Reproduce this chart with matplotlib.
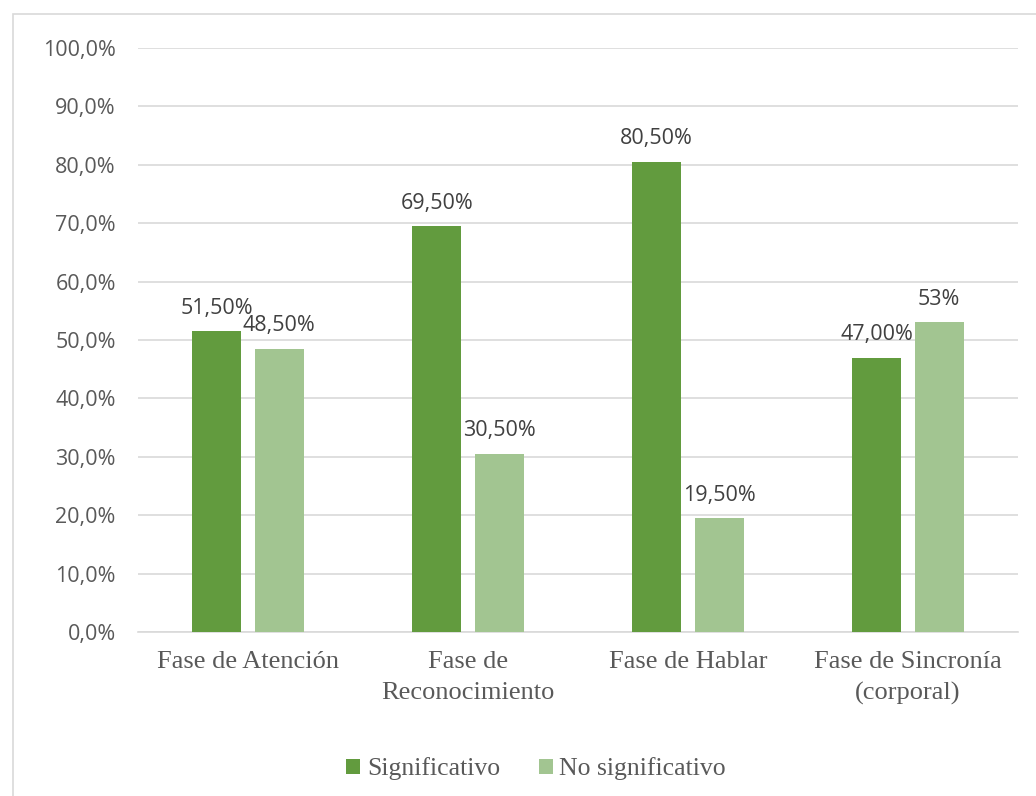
import matplotlib
matplotlib.use("Agg")
import matplotlib.pyplot as plt
from matplotlib.patches import Rectangle
import numpy as np

categories = ["Fase de Atención", "Fase de\nReconocimiento", "Fase de Hablar", "Fase de Sincronía\n(corporal)"]
significativo = [51.5, 69.5, 80.5, 47.0]
no_significativo = [48.5, 30.5, 19.5, 53.0]
labels_sig = ["51,50%", "69,50%", "80,50%", "47,00%"]
labels_nosig = ["48,50%", "30,50%", "19,50%", "53%"]
series_names = ["Significativo", "No significativo"]
yticks = np.arange(0, 101, 10)

dark = "#629B3E"
light = "#A2C591"
grid_c = "#D9D9D9"
tick_c = "#595959"
val_c = "#404040"

sans = ["Open Sans", "DejaVu Sans"]
serif = ["Liberation Serif", "DejaVu Serif"]

fig = plt.figure(figsize=(10.36, 7.96), dpi=100)
# chart frame: open at the right and bottom edges of the canvas
fig.patches.append(Rectangle((12.5 / 1036, -0.05), 1.1, 1.05 - 14.5 / 796, transform=fig.transFigure,
                             fill=False, edgecolor=grid_c, linewidth=1.2, zorder=0))

ax = fig.add_axes([138 / 1036, 1 - 632 / 796, (1018 - 138) / 1036, (632 - 48) / 796])
x = np.arange(len(categories))
w = 0.223
off = 0.142
b1 = ax.bar(x - off, significativo, w, color=dark, zorder=3, label=series_names[0])
b2 = ax.bar(x + off, no_significativo, w, color=light, zorder=3, label=series_names[1])

for bars, labs in ((b1, labels_sig), (b2, labels_nosig)):
    for rect, lab in zip(bars, labs):
        ax.annotate(lab, (rect.get_x() + rect.get_width() / 2, rect.get_height()),
                    xytext=(0, 12.6), textcoords="offset points", ha="center", va="baseline",
                    fontsize=15.5, color=val_c, family=sans, zorder=4)

ax.set_ylim(0, 100)
ax.set_xlim(-0.5, len(categories) - 0.5)
ax.set_yticks(yticks)
ax.set_yticklabels([f"{v:.1f}%".replace(".", ",") for v in yticks], family=sans, fontsize=15.5, color=tick_c)
ax.set_xticks(x)
ax.set_xticklabels(categories, family=serif, fontsize=19, color=tick_c, linespacing=1.5)
ax.tick_params(axis="y", length=0, pad=16)
ax.tick_params(axis="x", length=0, pad=14)
ax.grid(axis="y", color=grid_c, linewidth=1.2, zorder=0)
for s in ("top", "right", "left"):
    ax.spines[s].set_visible(False)
ax.spines["bottom"].set_color(grid_c)
ax.spines["bottom"].set_linewidth(1.2)

fig.legend(handles=[b1, b2], labels=series_names, loc="center", bbox_to_anchor=(536 / 1036, 1 - 769 / 796),
           ncol=2, frameon=False, prop={"family": serif, "size": 18.5}, labelcolor=tick_c,
           handlelength=0.55, handleheight=0.55, handletextpad=0.25, columnspacing=1.5)

fig.savefig("out.png", dpi=100)
